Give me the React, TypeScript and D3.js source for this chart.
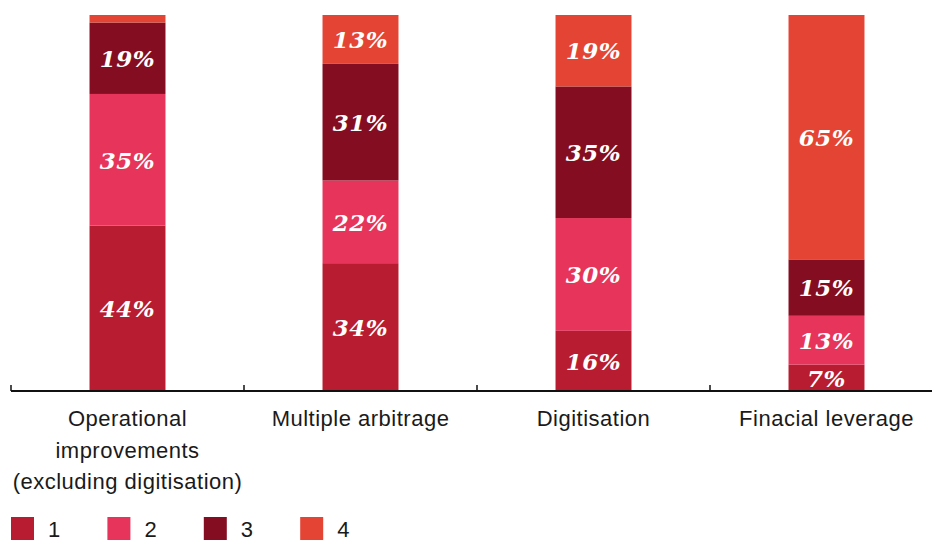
import React from "react";
import * as d3 from "d3";

const categories = [
  "Operational improvements (excluding digitisation)",
  "Multiple arbitrage",
  "Digitisation",
  "Finacial leverage",
];
const categoryLines = [
  ["Operational", "improvements", "(excluding digitisation)"],
  ["Multiple arbitrage"],
  ["Digitisation"],
  ["Finacial leverage"],
];
const seriesNames = ["1", "2", "3", "4"];
const series1 = [44, 34, 16, 7];
const series2 = [35, 22, 30, 13];
const series3 = [19, 31, 35, 15];
const series4 = [2, 13, 19, 65];
const seriesLabels = [
  ["44%", "35%", "19%", ""],
  ["34%", "22%", "31%", "13%"],
  ["16%", "30%", "35%", "19%"],
  ["7%", "13%", "15%", "65%"],
];
const colors = ["#B81C31", "#E6345A", "#840D21", "#E44434"];

const W = 932;
const H = 540;

export default function App() {
  const x = d3
    .scaleBand<string>()
    .domain(categories)
    .range([11, 943])
    .paddingInner(0.674)
    .paddingOuter(0.337);
  const y = d3.scaleLinear().domain([0, 100]).range([391, 15]);

  const rows = categories.map((c, i) => ({
    cat: c,
    s0: series1[i],
    s1: series2[i],
    s2: series3[i],
    s3: series4[i],
  }));
  const stack = d3.stack<any>().keys(["s0", "s1", "s2", "s3"]);
  const layers = stack(rows);
  const step = x.step();
  const bw = x.bandwidth();

  return (
    <svg width={W} height={H} style={{ position: "absolute", left: 0, top: 0 }}>
      <rect width={W} height={H} fill="#fff" />
      {layers.map((layer, si) =>
        layer.map((d, ci) => {
          const x0 = x(categories[ci])!;
          const y0 = y(d[1]);
          const y1 = y(d[0]);
          const label = seriesLabels[ci][si];
          return (
            <g key={`${si}-${ci}`}>
              <rect x={x0} y={y0} width={bw} height={y1 - y0} fill={colors[si]} />
              {label && (
                <text
                  x={x0 + bw / 2}
                  y={(y0 + y1) / 2}
                  dy="0.38em"
                  textAnchor="middle"
                  fill="#fff"
                  fontFamily="'DejaVu Serif', serif"
                  fontWeight="bold"
                  fontStyle="italic"
                  fontSize={23}
                  letterSpacing={0.6}
                >
                  {label}
                </text>
              )}
            </g>
          );
        })
      )}
      <line x1={11} x2={W} y1={391} y2={391} stroke="#111" strokeWidth={2} />
      {categories.map((c, i) => {
        const tx = x(c)! - (step - bw) / 2;
        return <line key={c} x1={tx} x2={tx} y1={391} y2={385} stroke="#111" strokeWidth={1.5} />;
      })}
      {categories.map((c, i) => (
        <text
          key={c}
          x={x(c)! + bw / 2}
          textAnchor="middle"
          fontFamily="'Liberation Sans', Arial, sans-serif"
          fontSize={22}
          letterSpacing={0.5}
          fill="#1a1a1a"
        >
          {categoryLines[i].map((ln, li) => (
            <tspan key={li} x={x(c)! + bw / 2} y={426 + li * 31.5}>
              {ln}
            </tspan>
          ))}
        </text>
      ))}
      {seriesNames.map((n, i) => (
        <g key={n} transform={`translate(${11 + i * 96.4},517)`}>
          <rect width={23} height={23} fill={colors[i]} />
          <text
            x={37}
            y={20}
            fontFamily="'Liberation Sans', Arial, sans-serif"
            fontSize={22}
            fill="#1a1a1a"
          >
            {n}
          </text>
        </g>
      ))}
    </svg>
  );
}
